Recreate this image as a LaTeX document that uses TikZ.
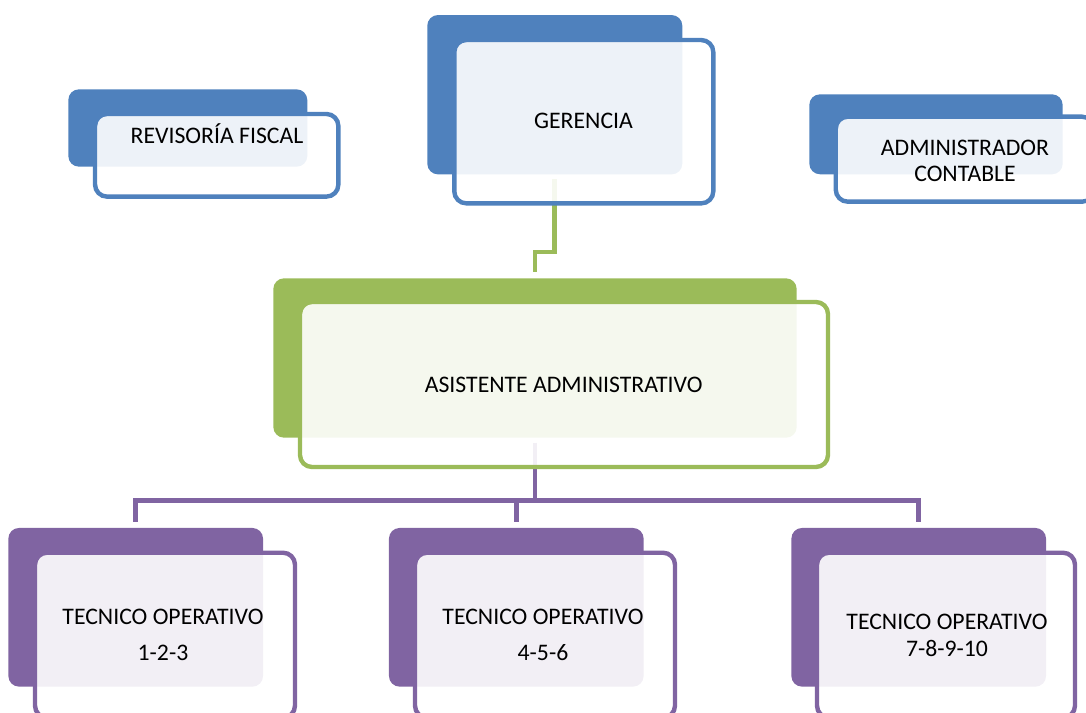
\documentclass[tikz,border=0pt]{standalone}
\usepackage{fontspec}
\setmainfont{Carlito}
\usepackage{xcolor}
\usepackage{tikz}
\definecolor{orgblue}{RGB}{79, 129, 189}
\definecolor{orggreen}{RGB}{155, 187, 89}
\definecolor{orgpurple}{RGB}{128, 100, 162}
\tikzset{
  back/.style={fill=#1, rounded corners=8pt, inner sep=0pt, outer sep=0pt},
  front/.style={draw=#1, line width=3.3pt, fill=white, fill opacity=0.9, rounded corners=9pt, inner sep=0pt, outer sep=0pt},
  link/.style={draw=#1, line width=3.5pt},
  lbl/.style={font=\fontsize{17.8}{20.2}\selectfont, align=center, anchor=base, text=black}
}

\begin{document}
\begin{tikzpicture}[x=0.75pt, y=-0.75pt]
\useasboundingbox (0,0) rectangle (1086,713);
\clip (0,0) rectangle (1086,713);

\node[back=orgblue, minimum width=179.25pt, minimum height=58pt] (revB) at (187.8,128) {};
\node[back=orgblue, minimum width=191.25pt, minimum height=119.5pt] (gerB) at (554.8,94.7) {};
\node[back=orgblue, minimum width=190pt, minimum height=60pt] (admB) at (936,134.3) {};
\node[back=orggreen, minimum width=392.5pt, minimum height=119.5pt] (asisB) at (535,358) {};
\node[back=orgpurple, minimum width=191pt, minimum height=119pt] (tec1B) at (135.7,607.3) {};
\node[back=orgpurple, minimum width=191pt, minimum height=119pt] (tec2B) at (516.3,607.3) {};
\node[back=orgpurple, minimum width=191pt, minimum height=119pt] (tec3B) at (918.7,607.3) {};

\draw[link=orggreen, shorten <=3.75pt, shorten >=4.5pt] (gerB.south) -- ++(0,77.7) -| (asisB.north);
\draw[link=orgpurple, shorten <=3.75pt] (asisB.south) -- ++(0,62.7) coordinate (bus);
\draw[link=orgpurple, shorten <=4.5pt, shorten >=4.5pt] (tec1B.north) -- (tec1B.north |- bus) -- (tec3B.north |- bus) -- (tec3B.north);
\draw[link=orgpurple, shorten >=4.5pt] (tec2B.north |- bus) -- (tec2B.north);

\node[front=orgblue, minimum width=182.5pt, minimum height=62pt] (rev) at (216.7,155.3) {};
\node[front=orgblue, minimum width=194.25pt, minimum height=122.5pt] (ger) at (583.8,121.7) {};
\node[front=orgblue, minimum width=193.7pt, minimum height=63.75pt] (adm) at (964.9,159.2) {};
\node[front=orggreen, minimum width=396pt, minimum height=123.75pt] (asis) at (564,384.5) {};
\node[front=orgpurple, minimum width=195pt, minimum height=123.75pt] (tec1) at (165,635.2) {};
\node[front=orgpurple, minimum width=195pt, minimum height=123.75pt] (tec2) at (545,635.2) {};
\node[front=orgpurple, minimum width=193.5pt, minimum height=123.75pt] (tec3) at (946,635.2) {};

\node[lbl] (revTxt) at (217,144) {REVISORÍA FISCAL};
\node[lbl] (gerTxt) at (583.5,129) {GERENCIA};
\node[lbl] (admTxt) at (965,182) {ADMINISTRADOR\\CONTABLE};
\node[lbl] (asisTxt) at (563.7,392) {ASISTENTE ADMINISTRATIVO};
\node[lbl] (tec1Txt) at (163,660) {TECNICO OPERATIVO\\[6.6pt]1-2-3};
\node[lbl] (tec2Txt) at (543,660) {TECNICO OPERATIVO\\[6.6pt]4-5-6};
\node[lbl] (tec3Txt) at (947,656.7) {TECNICO OPERATIVO\\7-8-9-10};
\end{tikzpicture}
\end{document}
